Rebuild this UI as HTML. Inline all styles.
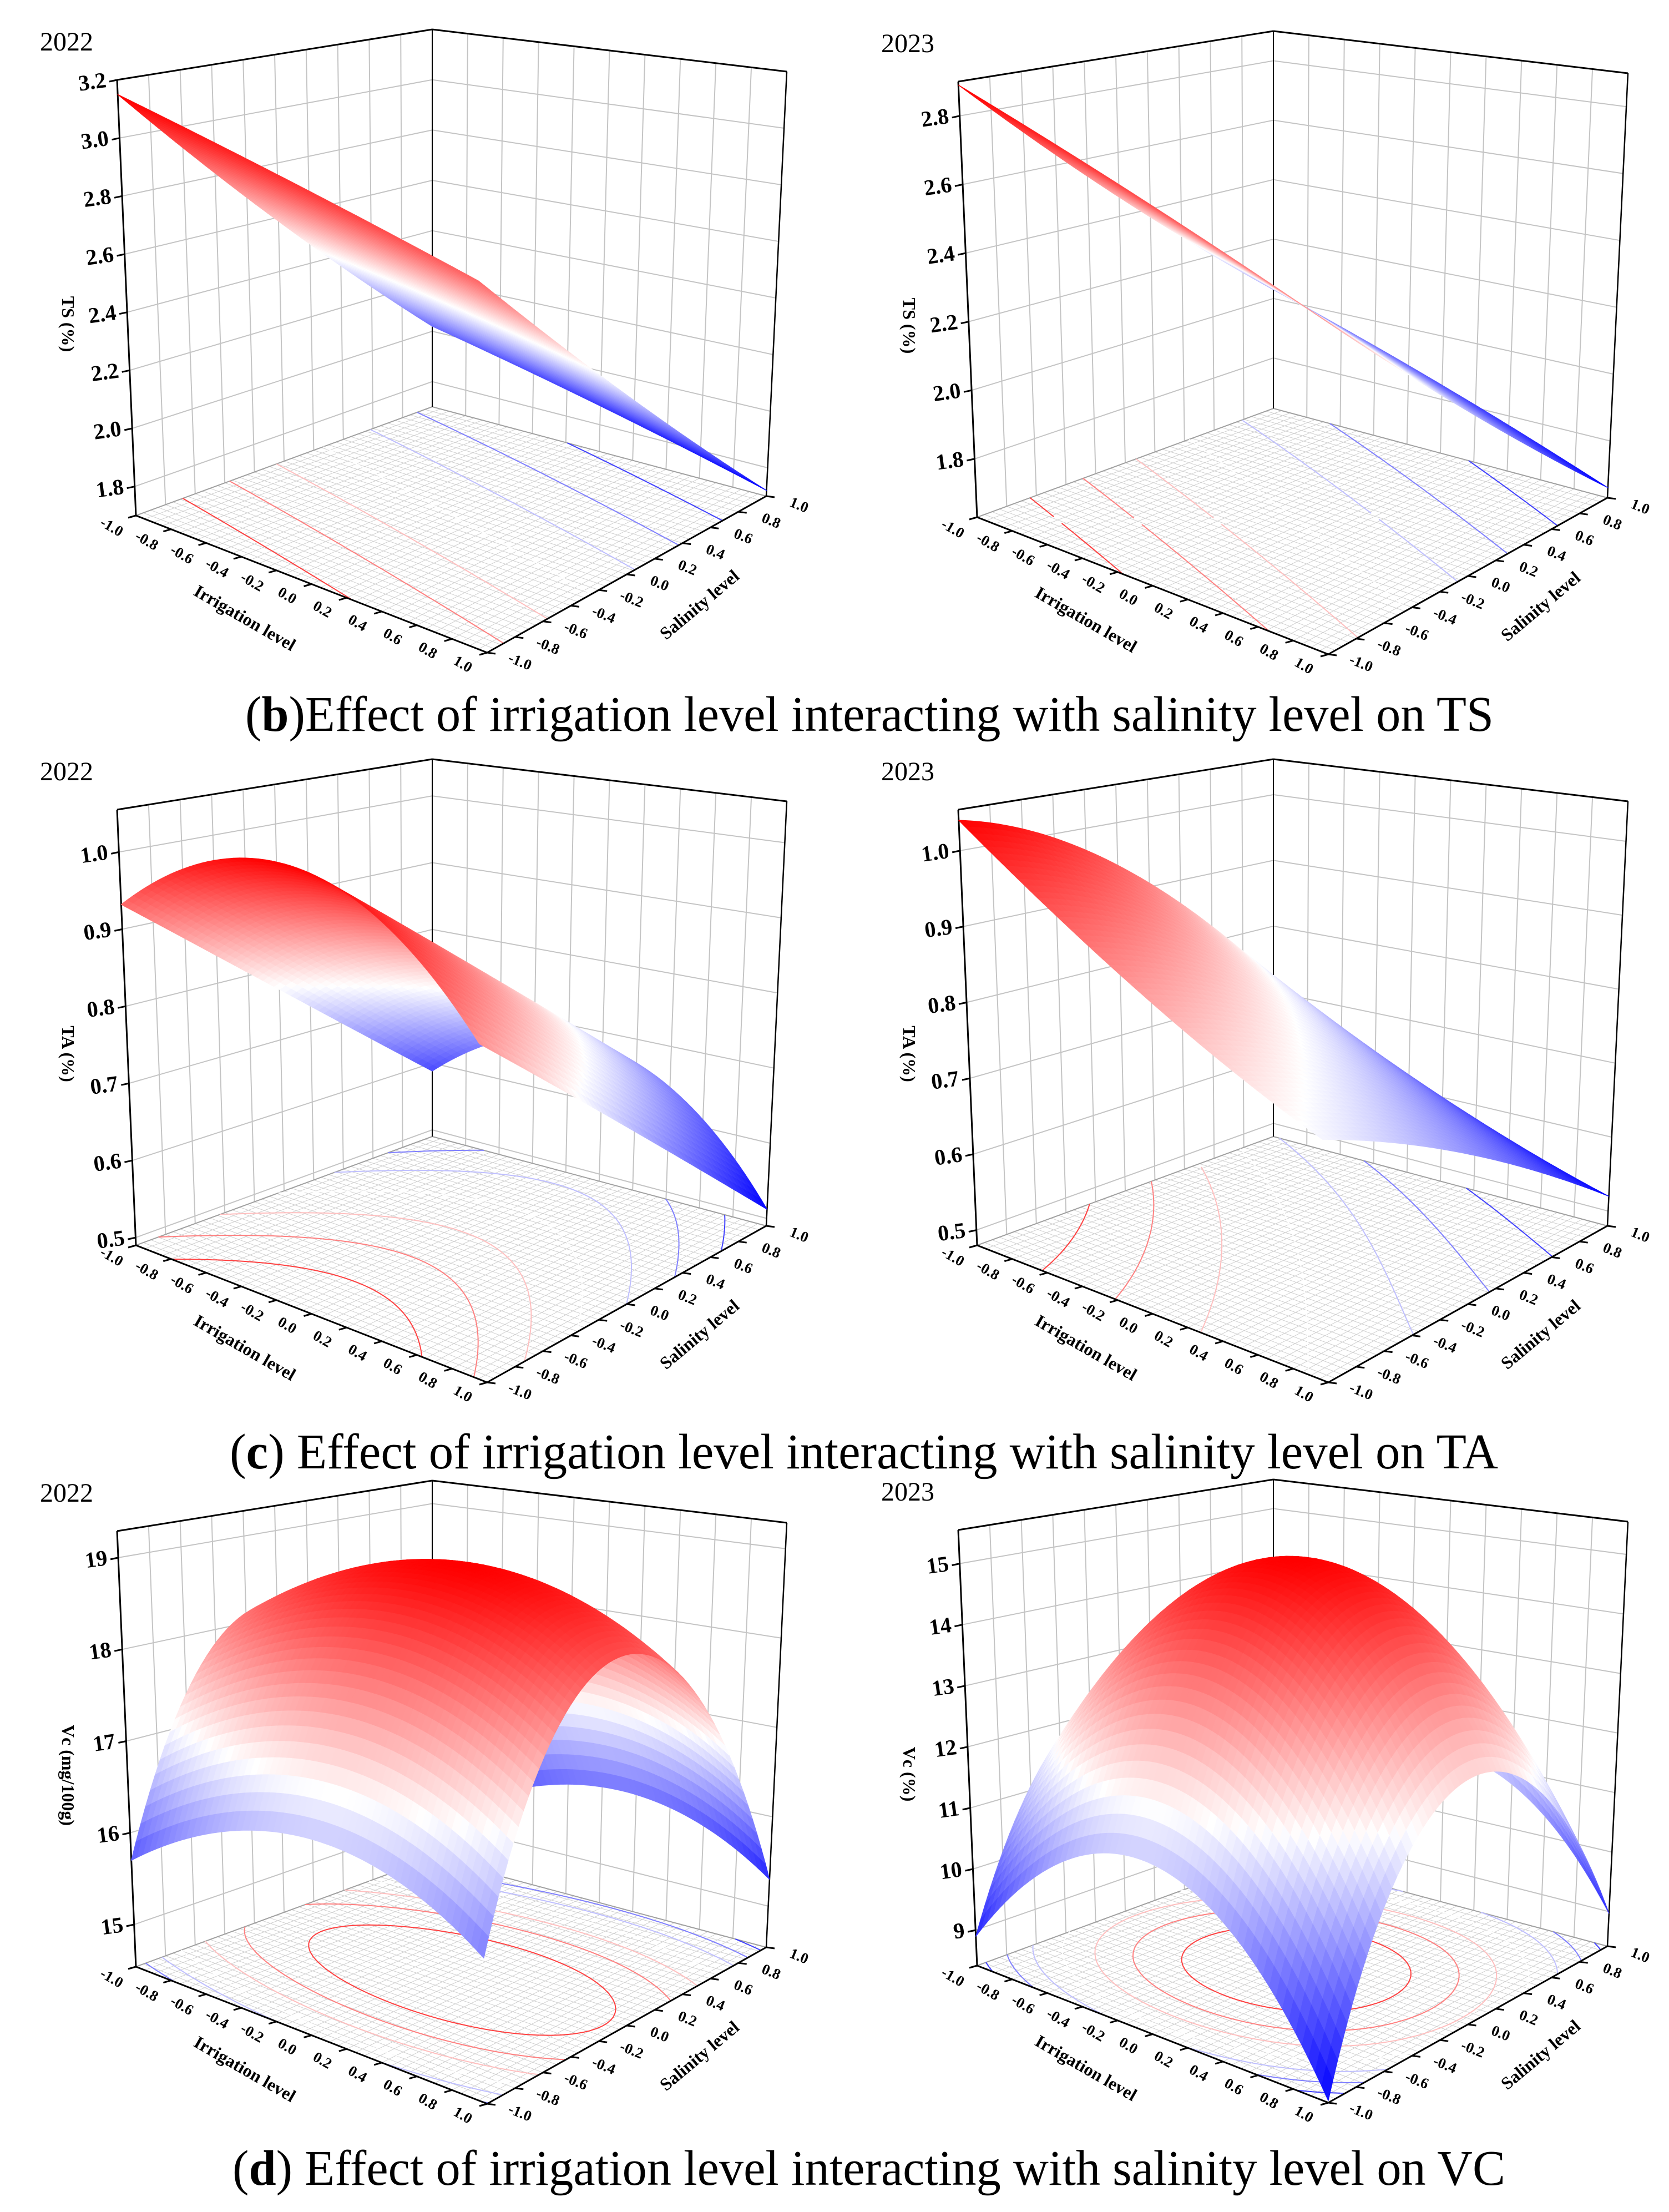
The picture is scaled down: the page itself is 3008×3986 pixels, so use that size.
<!DOCTYPE html>
<html><head><meta charset="utf-8"><style>
html,body{margin:0;padding:0;background:#fff}
svg{display:block}
text{font-family:"Liberation Serif","DejaVu Serif",serif}
.tk{font-weight:bold;font-size:27px}
.zk{font-weight:bold;font-size:40px}
.ttl{font-weight:bold;font-size:32px}
.yr{font-size:48px}
.cap{font-size:90px}
</style></head><body>
<svg id="fig" width="3008" height="3986" viewBox="0 0 3008 3986" xmlns="http://www.w3.org/2000/svg">
<rect width="3008" height="3986" fill="#fff"/>
<text class="cap" x="442" y="1317" textLength="2250" lengthAdjust="spacingAndGlyphs">(<tspan font-weight="bold">b</tspan>)Effect of irrigation level interacting with salinity level on TS</text>
<text class="cap" x="414" y="2646" textLength="2286" lengthAdjust="spacingAndGlyphs">(<tspan font-weight="bold">c</tspan>) Effect of irrigation level interacting with salinity level on TA</text>
<text class="cap" x="419" y="3937" textLength="2294" lengthAdjust="spacingAndGlyphs">(<tspan font-weight="bold">d</tspan>) Effect of irrigation level interacting with salinity level on VC</text>
</svg>
<script>
// Surface values on a 3x3 design grid: rows irrigation -1,0,1 ; cols salinity -1,0,1
const tsZ2022 = [[3.15,2.585,2.02],[3.005,2.4375,1.87],[2.86,2.29,1.72]];
const tsZ2023 = [[2.89,2.46,2.03],[2.705,2.275,1.845],[2.52,2.09,1.66]];
const taZ2022 = [[0.932,0.77,0.588],[1.04,0.87,0.68],[0.888,0.71,0.512]];
const taZ2023 = [[1.04,0.94,0.72],[0.88,0.78,0.60],[0.77,0.67,0.52]];
const vcZ2022 = [[15.7,18.16,15.02],[16.59,19.05,15.91],[15.98,18.44,15.3]];
const vcZ2023 = [[8.9,12.3,8.9],[11.1,15.2,11.1],[8.45,12.3,8.97]];
const tsTicks2022 = [1.8,2.0,2.2,2.4,2.6,2.8,3.0,3.2];
const tsTicks2023 = [1.8,2.0,2.2,2.4,2.6,2.8];
const taTicks = [0.5,0.6,0.7,0.8,0.9,1.0];
const vcTicks2022 = [15,16,17,18,19];
const vcTicks2023 = [9,10,11,12,13,14,15];
const xyTicks = [-1.0,-0.8,-0.6,-0.4,-0.2,0.0,0.2,0.4,0.6,0.8,1.0];

const NS='http://www.w3.org/2000/svg';
const svg=document.getElementById('fig');
function mk(tag,attrs,parent){const e=document.createElementNS(NS,tag);for(const k in attrs)e.setAttribute(k,attrs[k]);(parent||svg).appendChild(e);return e;}

const panels=[
 {id:'ts-2022',dx:0,dy:0,z:tsZ2022,zmin:1.7,zmax:3.2,ticks:tsTicks2022,dec:1,title:'TS (%)',year:'2022'},
 {id:'ts-2023',dx:1516,dy:3,z:tsZ2023,zmin:1.63,zmax:2.9,ticks:tsTicks2023,dec:1,title:'TS (%)',year:'2023'},
 {id:'ta-2022',dx:0,dy:1315,z:taZ2022,zmin:0.49,zmax:1.055,ticks:taTicks,dec:1,title:'TA (%)',year:'2022'},
 {id:'ta-2023',dx:1516,dy:1315,z:taZ2023,zmin:0.48,zmax:1.054,ticks:taTicks,dec:1,title:'TA (%)',year:'2023'},
 {id:'vc-2022',dx:0,dy:2615,z:vcZ2022,zmin:14.54,zmax:19.29,ticks:vcTicks2022,dec:0,title:'Vc (mg/100g)',year:'2022'},
 {id:'vc-2023',dx:1516,dy:2613,z:vcZ2023,zmin:8.42,zmax:15.55,ticks:vcTicks2023,dec:0,title:'Vc (%)',year:'2023'}
];
const G={fL:[245,929],fF:[878,1176],fR:[1381,894],fB:[779,733],
         tL:[211,144],tF:[858,310],tR:[1418,129],tB:[779,53]};
function bil(a,b,c,d,u,v){return [a[0]*(1-u)*(1-v)+b[0]*u*(1-v)+c[0]*u*v+d[0]*(1-u)*v,
 a[1]*(1-u)*(1-v)+b[1]*u*(1-v)+c[1]*u*v+d[1]*(1-u)*v];}
function lag(s){return [s*(s-1)/2,1-s*s,s*(s+1)/2];}
function cmap(f){f=Math.max(0,Math.min(1,f));let r,g,b;
 if(f<0.5){const k=f/0.5;r=Math.round(255*k);g=r;b=255;}else{const k=(f-0.5)/0.5;r=255;g=Math.round(255*(1-k));b=g;}
 return 'rgb('+r+','+g+','+b+')';}

panels.forEach(p=>{
 const grp=mk('g',{transform:'translate('+p.dx+','+p.dy+')'});
 
 
 const tz=z=>(z-p.zmin)/(p.zmax-p.zmin);
 const P=(u,v,t)=>{const f=bil(G.fL,G.fF,G.fR,G.fB,u,v),tp=bil(G.tL,G.tF,G.tR,G.tB,u,v);return [f[0]+t*(tp[0]-f[0]),f[1]+t*(tp[1]-f[1])];};
 const Z=(u,v)=>{const a=lag(2*u-1),b=lag(2*v-1);let s=0;for(let i=0;i<3;i++)for(let j=0;j<3;j++)s+=a[i]*b[j]*p.z[i][j];return s;};
 const line=(a,b,st,w,par,name)=>{const e=mk('line',{x1:a[0].toFixed(1),y1:a[1].toFixed(1),x2:b[0].toFixed(1),y2:b[1].toFixed(1),stroke:st,'stroke-width':w},par);if(name){}return e;};
 const walls=mk('g',{},grp);
 
 
 xyTicks.forEach(k=>{const s=(k+1)/2;
   line(P(0,s,0),P(0,s,1),'#c4c4c4',2,walls);
   line(P(s,1,0),P(s,1,1),'#c4c4c4',2,walls);});
 p.ticks.forEach(z=>{const t=tz(z);
   line(P(0,0,t),P(0,1,t),'#c4c4c4',2,walls);
   line(P(0,1,t),P(1,1,t),'#c4c4c4',2,walls);});
 const fl=mk('g',{},grp);
 
 
 const NF=40;
 for(let i=0;i<=NF;i++){const s=i/NF;
   line(P(s,0,0),P(s,1,0),'#cfcfcf',1,fl);
   line(P(0,s,0),P(1,s,0),'#cfcfcf',1,fl);}
 line(P(0,0,0),P(0,1,0),'#a0a0a0',2,fl);line(P(0,1,0),P(1,1,0),'#a0a0a0',2,fl);
 const N=56,vals=[];let mn=1e9,mx=-1e9;
 for(let i=0;i<=N;i++){vals.push([]);for(let j=0;j<=N;j++){const z=Z(i/N,j/N);vals[i].push(z);mn=Math.min(mn,z);mx=Math.max(mx,z);}}
 const cg=mk('g',{},grp);
 
 
 const NL=8;
 for(let l=1;l<NL;l++){const lev=mn+(mx-mn)*l/NL;let d='';
  for(let i=0;i<N;i++)for(let j=0;j<N;j++){
   const c=[[i,j],[i+1,j],[i+1,j+1],[i,j+1]];const pts=[];
   for(let e=0;e<4;e++){const a=c[e],b=c[(e+1)%4];const va=vals[a[0]][a[1]],vb=vals[b[0]][b[1]];
     if((va-lev)*(vb-lev)<0){const k=(lev-va)/(vb-va);pts.push(P((a[0]+k*(b[0]-a[0]))/N,(a[1]+k*(b[1]-a[1]))/N,0));}}
   if(pts.length>=2){d+='M'+pts[0][0].toFixed(1)+','+pts[0][1].toFixed(1)+'L'+pts[1][0].toFixed(1)+','+pts[1][1].toFixed(1);}
   if(pts.length==4){d+='M'+pts[2][0].toFixed(1)+','+pts[2][1].toFixed(1)+'L'+pts[3][0].toFixed(1)+','+pts[3][1].toFixed(1);}
  }
  const pe=mk('path',{d:d,stroke:cmap(l/NL),'stroke-width':2,fill:'none'},cg);
  
  
 }
 const ax=mk('g',{},grp);
 
 
 line(P(0,0,1),P(0,1,1),'#000',3,ax);line(P(0,1,1),P(1,1,1),'#000',3,ax);
 line(P(0,1,0),P(0,1,1),'#000',2,ax);line(P(1,1,0),P(1,1,1),'#000',2.5,ax);
 line(P(0,0,0),P(0,0,1),'#000',3,ax,'z-axis');
 line(P(0,0,0),P(1,0,0),'#000',3,ax,'x-axis-irrigation');
 line(P(1,0,0),P(1,1,0),'#000',3,ax,'y-axis-salinity');
 const sg=mk('g',{},grp);
 
 
 const quads=[];
 for(let i=0;i<N;i++)for(let j=0;j<N;j++)quads.push([i,j,(N-i)+j]);
 quads.sort((a,b)=>b[2]-a[2]);
 quads.forEach(q=>{const i=q[0],j=q[1];
   const cs=[[i,j],[i+1,j],[i+1,j+1],[i,j+1]].map(c=>P(c[0]/N,c[1]/N,tz(vals[c[0]][c[1]])));
   const zavg=(vals[i][j]+vals[i+1][j]+vals[i+1][j+1]+vals[i][j+1])/4;
   const col=cmap((zavg-mn)/(mx-mn));
   const e=mk('path',{d:'M'+cs.map(c=>c[0].toFixed(1)+','+c[1].toFixed(1)).join('L')+'Z',fill:col,stroke:col,'stroke-width':1.2,'stroke-linejoin':'round'},sg);
   
   
 });
 p.ticks.forEach(z=>{const q=P(0,0,tz(z));
   line(q,[q[0]-14,q[1]+3],'#000',3,grp);
   const t=mk('text',{class:'zk',x:(q[0]-20).toFixed(1),y:(q[1]+13).toFixed(1),'text-anchor':'end',transform:'rotate(-8 '+(q[0]-20).toFixed(1)+' '+q[1].toFixed(1)+')'},grp);
   t.textContent=z.toFixed(p.dec);
   
   });
 xyTicks.forEach(k=>{const s=(k+1)/2;
   let q=P(s,0,0);line(q,[q[0]-14,q[1]+4],'#000',3,grp);
   let lx=q[0]-48,ly=q[1]+28;
   let t=mk('text',{class:'tk',x:lx.toFixed(1),y:ly.toFixed(1),'text-anchor':'middle',transform:'rotate(30 '+lx.toFixed(1)+' '+ly.toFixed(1)+')'},grp);
   t.textContent=k.toFixed(1);
   
   
   q=P(1,s,0);line(q,[q[0]+15,q[1]+2],'#000',3,grp);
   lx=q[0]+56;ly=q[1]+24;
   t=mk('text',{class:'tk',x:lx.toFixed(1),y:ly.toFixed(1),'text-anchor':'middle',transform:'rotate(22 '+lx.toFixed(1)+' '+ly.toFixed(1)+')'},grp);
   t.textContent=k.toFixed(1);
   
   });
 let t=mk('text',{class:'ttl',x:441,y:1124,'text-anchor':'middle',transform:'rotate(30 441 1114)'},grp);
 t.textContent='Irrigation level';
 
 
 t=mk('text',{class:'ttl',x:1261,y:1100,'text-anchor':'middle',transform:'rotate(-40 1261 1090)'},grp);
 t.textContent='Salinity level';
 
 
 t=mk('text',{class:'ttl',x:125,y:597,'text-anchor':'middle',transform:'rotate(90 125 584)','font-size':'40'},grp);
 t.textContent=p.title;
 
 
 t=mk('text',{class:'yr',x:72,y:91},grp);
 t.textContent=p.year;
 
 
});
</script>
</body></html>
